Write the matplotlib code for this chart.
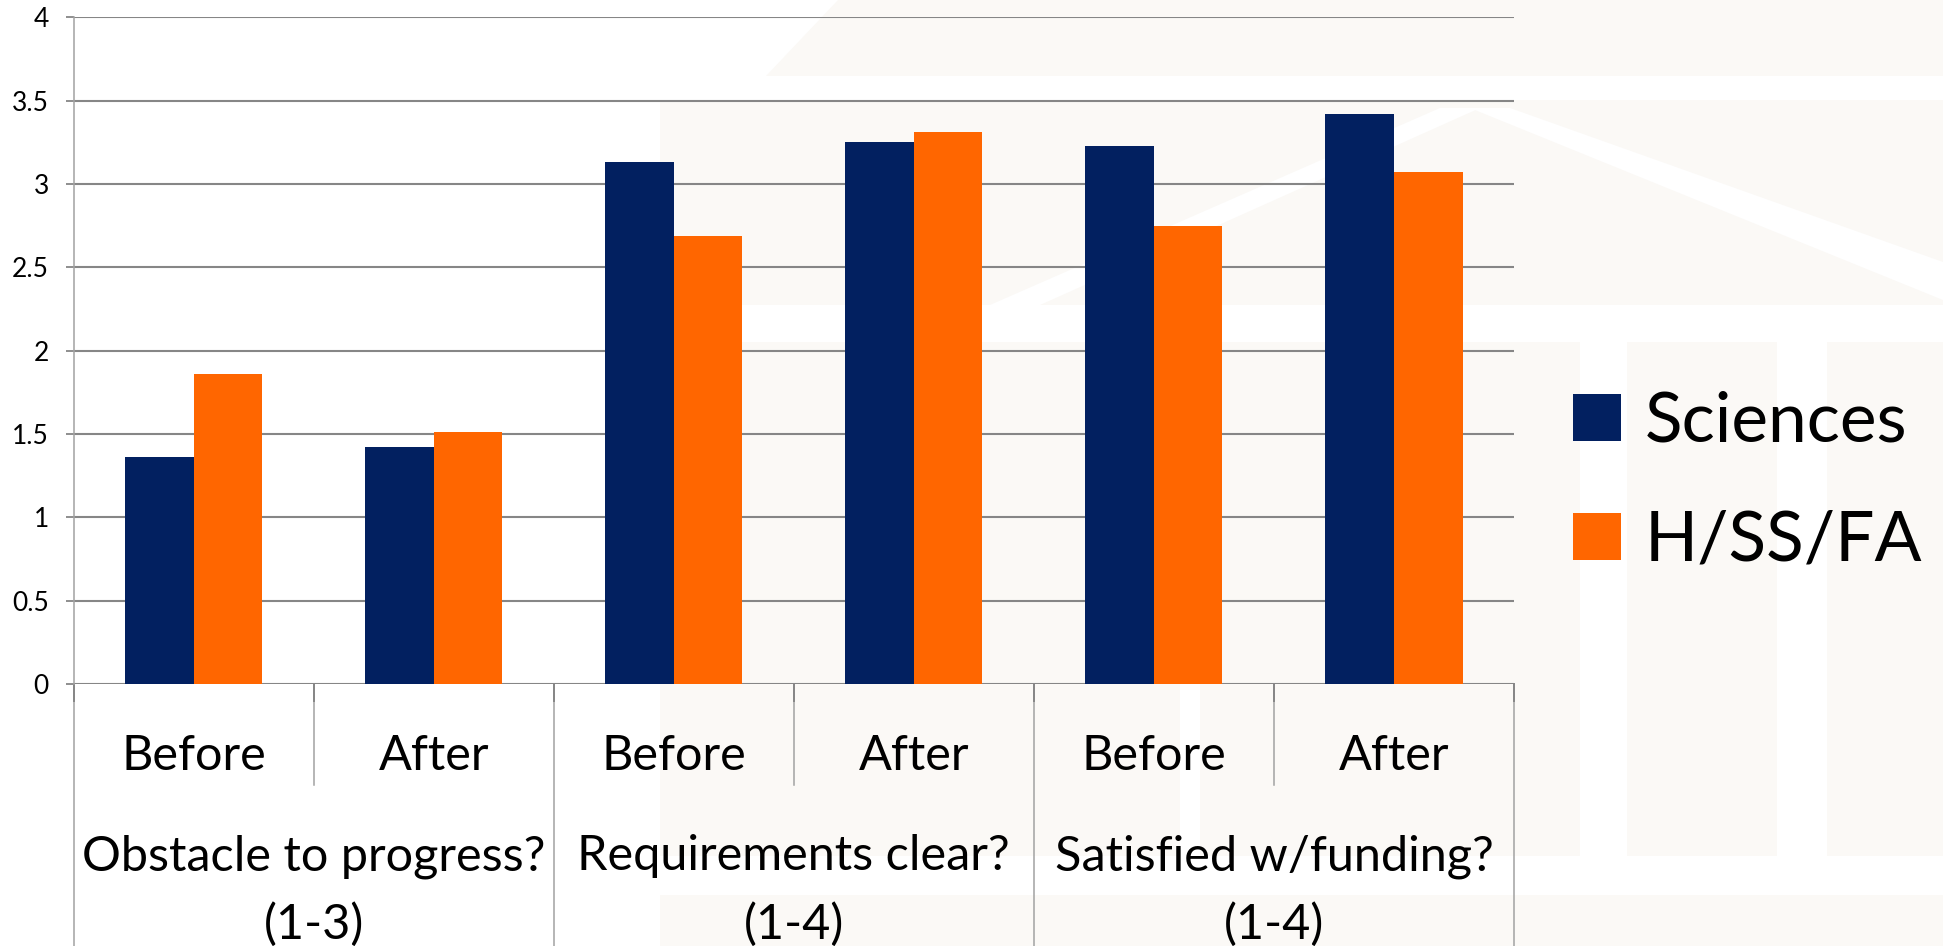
import matplotlib
matplotlib.use("Agg")
import matplotlib.pyplot as plt
from matplotlib.patches import Polygon, Rectangle
import numpy as np

# ---------------- data ----------------
sub_labels = ["Before", "After", "Before", "After", "Before", "After"]
group_line1 = ["Obstacle to progress?", "Requirements clear?", "Satisfied w/funding?"]
group_line2 = ["(1-3)", "(1-4)", "(1-4)"]
series_names = ["Sciences", "H/SS/FA"]
sciences = [1.36, 1.42, 3.13, 3.25, 3.23, 3.42]
hssfa = [1.86, 1.51, 2.69, 3.31, 2.75, 3.07]
yticks = [0, 0.5, 1, 1.5, 2, 2.5, 3, 3.5, 4]
ytick_labels = ["0", "0.5", "1", "1.5", "2", "2.5", "3", "3.5", "4"]

NAVY = "#022060"
ORANGE = "#FF6600"
GRID = "#868686"
AXC = "#a2a2a2"
BEIGE = "#fbf9f6"
FONT = "Lato"

W, H = 1943, 946
fig = plt.figure(figsize=(W / 100, H / 100), dpi=100)
fig.patch.set_facecolor("white")

def fx(px):
    return px / W

def fy(py):
    return 1 - py / H

# ---------------- faint background (building photo) ----------------
def bg_poly(pts, color=BEIGE):
    fig.patches.append(Polygon([(fx(x), fy(y)) for x, y in pts], closed=True,
                               transform=fig.transFigure, facecolor=color,
                               edgecolor="none", zorder=-10))

bg_poly([(838, 0), (1943, 0), (1943, 76), (766, 76)])
bg_poly([(660, 100), (1943, 100), (1943, 305), (660, 305)])
bg_poly([(1470, 108), (1510, 108), (1943, 262), (1943, 300)], "white")
bg_poly([(1440, 108), (1480, 108), (1040, 305), (990, 305)], "white")
bg_poly([(660, 342), (1943, 342), (1943, 856), (660, 856)])
for x0, x1 in [(1580, 1627), (1777, 1827), (1180, 1200)]:
    bg_poly([(x0, 342), (x1, 342), (x1, 856), (x0, 856)], "white")
bg_poly([(660, 895), (1943, 895), (1943, 946), (660, 946)])

# ---------------- axes ----------------
ax_left, ax_right, ax_top, ax_bottom = 73.5, 1514, 17.5, 684
ax = fig.add_axes([fx(ax_left), fy(ax_bottom), (ax_right - ax_left) / W,
                   (ax_bottom - ax_top) / H])
ax.set_facecolor("none")

n = len(sub_labels)
x = np.arange(n)
bw = 1 / 3.5
ax.bar(x - bw / 2, sciences, width=bw, color=NAVY, zorder=3, label=series_names[0])
ax.bar(x + bw / 2, hssfa, width=bw, color=ORANGE, zorder=3, label=series_names[1])

ax.set_xlim(-0.5, n - 0.5)
ax.set_ylim(0, 4)
ax.set_yticks(yticks)
ax.set_yticklabels(ytick_labels, fontfamily=FONT, fontsize=19)
ax.yaxis.grid(True, color=GRID, linewidth=1.5, zorder=1)
ax.set_axisbelow(True)
ax.tick_params(axis="y", length=5.8, width=1.3, color=GRID, pad=12)
ax.set_xticks([])
for s in ["top", "right", "bottom"]:
    ax.spines[s].set_visible(False)
ax.spines["left"].set_color(AXC)
ax.spines["left"].set_linewidth(1.1)

def ay(py):
    return (ax_bottom - py) / (ax_bottom - ax_top)

tr = ax.get_xaxis_transform()
# category box lines
for xb in [-0.5, 1.5, 3.5, 5.5]:
    ax.plot([xb, xb], [0, ay(H + 5)], color=AXC, lw=1.1, transform=tr, clip_on=False)
for xb in [0.5, 2.5, 4.5]:
    ax.plot([xb, xb], [0, ay(785)], color=AXC, lw=1.1, transform=tr, clip_on=False)
for xb in [-0.5, 0.5, 1.5, 2.5, 3.5, 4.5, 5.5]:
    ax.plot([xb, xb], [0, ay(701)], color=GRID, lw=1.4, transform=tr, clip_on=False)

# category labels
for i, lab in enumerate(sub_labels):
    ax.text(x[i], ay(770), lab, transform=tr, ha="center", va="baseline",
            fontfamily=FONT, fontsize=35, color="black")
for g in range(3):
    cx = 2 * g + 0.5
    ax.text(cx, ay(870), group_line1[g], transform=tr, ha="center", va="baseline",
            fontfamily=FONT, fontsize=35, color="black")
    ax.text(cx, ay(939), group_line2[g], transform=tr, ha="center", va="baseline",
            fontfamily=FONT, fontsize=35, color="black")

# ---------------- legend ----------------
leg_rows = [(394, 441, NAVY, series_names[0]), (513, 560, ORANGE, series_names[1])]
for top, bot, col, name in leg_rows:
    fig.patches.append(Rectangle((fx(1573), fy(bot)), fx(1621) - fx(1573),
                                 fy(top) - fy(bot), transform=fig.transFigure,
                                 facecolor=col, edgecolor="none"))
    fig.text(fx(1645), fy(bot), name, ha="left", va="baseline",
             fontfamily=FONT, fontsize=50, color="black")

fig.savefig("out.png", dpi=100)
